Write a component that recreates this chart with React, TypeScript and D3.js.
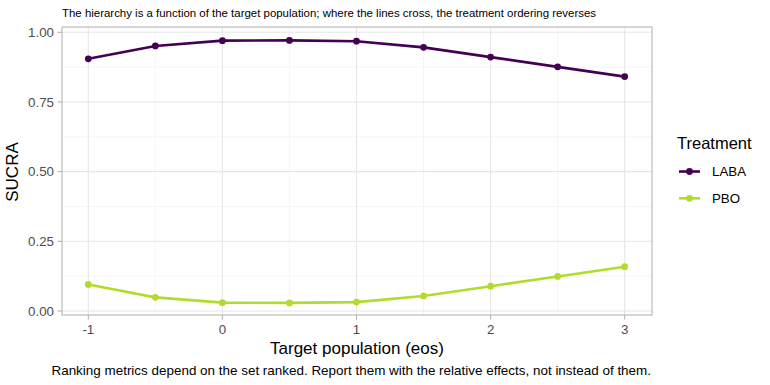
import React from "react";
import * as d3 from "d3";

// Target population grid (eos)
const eos = [-1, -0.5, 0, 0.5, 1, 1.5, 2, 2.5, 3];
// SUCRA by treatment
const labaSucra = [0.905, 0.951, 0.970, 0.971, 0.968, 0.946, 0.911, 0.876, 0.841];
const pboSucra = [0.095, 0.049, 0.030, 0.029, 0.032, 0.054, 0.089, 0.124, 0.159];
const treatments = ["LABA", "PBO"];
const treatmentColors = ["#440154", "#B2DC2C"];
const xTicks = [-1, 0, 1, 2, 3];
const yTicks = [0, 0.25, 0.5, 0.75, 1];

const W = 770;
const H = 385;
const panel = { left: 62, right: 652, top: 27, bottom: 315 };
const font = "'Liberation Sans', Arial, Helvetica, sans-serif";

export default function App() {
  const x = d3.scaleLinear().domain([-1, 3]).range([88.3, 624.7]);
  const y = d3.scaleLinear().domain([0, 1]).range([311, 32.3]);
  const line = d3
    .line<[number, number]>()
    .x((d) => x(d[0]))
    .y((d) => y(d[1]));

  const series = [labaSucra, pboSucra].map((vals, i) => ({
    name: treatments[i],
    color: treatmentColors[i],
    pts: eos.map((e, j) => [e, vals[j]] as [number, number]),
  }));

  const xMinor = d3.range(-0.5, 3, 1);
  const yMinor = [0.125, 0.375, 0.625, 0.875];

  return (
    <svg width={W} height={H} style={{ position: "absolute", left: 0, top: 0, fontFamily: font }}>
      <rect width={W} height={H} fill="#fff" />
      <text x={62} y={17} fontSize={11.45} fill="#000">
        The hierarchy is a function of the target population; where the lines cross, the treatment ordering reverses
      </text>
      {/* grid */}
      {yMinor.map((v) => (
        <line key={"ym" + v} x1={panel.left} x2={panel.right} y1={y(v)} y2={y(v)} stroke="#ededed" strokeWidth={0.55} />
      ))}
      {xMinor.map((v) => (
        <line key={"xm" + v} x1={x(v)} x2={x(v)} y1={panel.top} y2={panel.bottom} stroke="#ededed" strokeWidth={0.55} />
      ))}
      {yTicks.map((v) => (
        <line key={"yg" + v} x1={panel.left} x2={panel.right} y1={y(v)} y2={y(v)} stroke="#e6e6e6" strokeWidth={1.07} />
      ))}
      {xTicks.map((v) => (
        <line key={"xg" + v} x1={x(v)} x2={x(v)} y1={panel.top} y2={panel.bottom} stroke="#e6e6e6" strokeWidth={1.07} />
      ))}
      {/* series */}
      {series.map((s) => (
        <g key={s.name}>
          <path d={line(s.pts) || ""} fill="none" stroke={s.color} strokeWidth={2.6} />
          {s.pts.map((p, j) => (
            <circle key={j} cx={x(p[0])} cy={y(p[1])} r={3.4} fill={s.color} />
          ))}
        </g>
      ))}
      <rect
        x={panel.left}
        y={panel.top}
        width={panel.right - panel.left}
        height={panel.bottom - panel.top}
        fill="none"
        stroke="#b3b3b3"
        strokeWidth={1.07}
      />
      {/* y axis */}
      {yTicks.map((v) => (
        <g key={"yt" + v}>
          <line x1={panel.left - 4.5} x2={panel.left} y1={y(v)} y2={y(v)} stroke="#b3b3b3" strokeWidth={1.07} />
          <text x={panel.left - 8} y={y(v)} dy="0.35em" textAnchor="end" fontSize={13.3} fill="#4d4d4d">
            {d3.format(".2f")(v)}
          </text>
        </g>
      ))}
      {/* x axis */}
      {xTicks.map((v) => (
        <g key={"xt" + v}>
          <line x1={x(v)} x2={x(v)} y1={panel.bottom} y2={panel.bottom + 4.5} stroke="#b3b3b3" strokeWidth={1.07} />
          <text x={x(v)} y={panel.bottom + 19} textAnchor="middle" fontSize={13.3} fill="#4d4d4d">
            {v}
          </text>
        </g>
      ))}
      <text x={(panel.left + panel.right) / 2} y={354} textAnchor="middle" fontSize={17} fill="#000">
        Target population (eos)
      </text>
      <text
        transform={`translate(18,${(panel.top + panel.bottom) / 2 + 1}) rotate(-90)`}
        textAnchor="middle"
        fontSize={17}
        fill="#000"
      >
        SUCRA
      </text>
      <text x={651} y={375} textAnchor="end" fontSize={13.45} fill="#000">
        Ranking metrics depend on the set ranked. Report them with the relative effects, not instead of them.
      </text>
      {/* legend */}
      <text x={677} y={149} fontSize={16.5} fill="#000">
        Treatment
      </text>
      {series.map((s, i) => (
        <g key={"lg" + s.name} transform={`translate(0,${171.5 + i * 26.8})`}>
          <line x1={679} x2={700} y1={0} y2={0} stroke={s.color} strokeWidth={2.6} />
          <circle cx={689.5} cy={0} r={3.4} fill={s.color} />
          <text x={712} y={0} dy="0.35em" fontSize={13.3} fill="#000">
            {s.name}
          </text>
        </g>
      ))}
    </svg>
  );
}
